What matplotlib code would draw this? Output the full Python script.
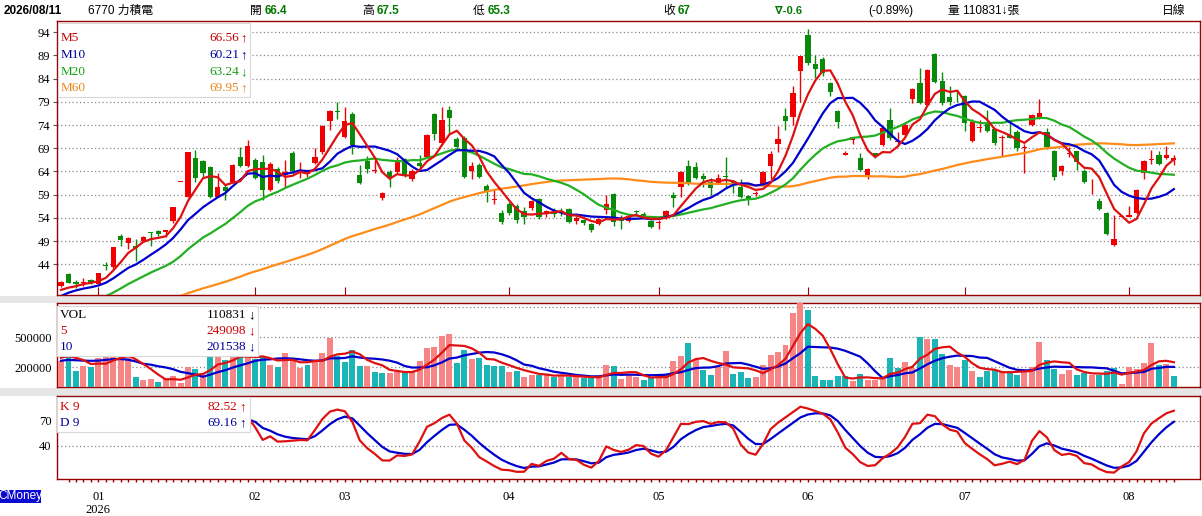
import matplotlib
matplotlib.use("Agg")
import matplotlib.pyplot as plt
import numpy as np
import pandas as pd
from matplotlib.patches import Rectangle

# ---------------- data ----------------
month_labels = ["01", "02", "03", "04", "05", "06", "07", "08"]
month_start_idx = [5, 26, 38, 60, 80, 100, 121, 143]
year_label = "2026"

# closes before the first visible candle (only used for moving averages)
history_close = [30.5, 31.0, 30.8, 31.5, 32.0, 31.6, 31.2, 30.9, 31.4, 32.1, 32.5, 32.0, 31.7, 31.3, 31.0, 31.5,
                 31.8, 32.2, 31.9, 31.5, 31.2, 31.6, 32.0, 32.3, 31.9, 31.6,
                 32.0, 32.5, 33.2, 33.6, 33.1, 32.8, 33.0, 32.6, 33.5,
                 33.2, 32.8, 32.4, 32.9, 33.3, 32.7, 32.2, 32.5, 32.9, 32.4, 32.0, 31.9,
                 31.5, 30.8, 31.2,
                 33.0, 34.8, 36.2, 37.0, 38.4,
                 37.6, 38.2, 37.8, 38.6]
history_volume = [220000, 200000, 250000, 220000, 270000, 230000, 250000, 320000, 400000]

opens = [39.4, 41.9, 40.3, 39.9, 40.7, 39.8, 43.8, 43.5, 50.1, 48.7,
         47.9, 49.1, 50.9, 51.1, 51.0, 53.3, 61.9, 58.6, 67.0, 66.2,
         65.0, 58.6, 60.6, 61.8, 67.1, 65.2, 66.5, 66.0, 60.1, 64.5,
         63.2, 68.0, 63.8, 63.4, 65.9, 68.1, 74.9, 77.0, 71.5, 76.4,
         63.2, 66.3, 64.2, 58.2, 63.9, 63.9, 66.6, 62.3, 65.9, 67.2,
         76.3, 70.2, 77.2, 71.0, 71.3, 64.2, 65.4, 60.9, 58.0, 55.0,
         56.9, 56.6, 55.5, 56.1, 58.0, 54.8, 55.3, 55.4, 55.9, 53.4,
         53.5, 52.7, 52.6, 55.7, 59.1, 53.9, 53.4, 55.4, 54.8, 53.4,
         53.0, 53.9, 58.9, 60.7, 65.2, 65.0, 63.1, 61.8, 61.5, 62.9,
         61.9, 60.7, 58.8, 59.1, 61.1, 65.2, 69.9, 76.0, 75.8, 85.7,
         93.4, 87.1, 88.2, 83.0, 77.0, 67.6, 70.8, 67.0, 63.1, 67.9,
         69.8, 75.1, 70.3, 71.9, 79.6, 83.0, 78.3, 89.4, 83.5, 80.1,
         80.3, 80.2, 70.6, 73.4, 74.2, 73.1, 71.2, 71.8, 72.6, 69.0,
         74.1, 75.6, 72.4, 68.4, 64.2, 67.8, 68.3, 64.2, 61.9, 57.7,
         55.1, 48.2, 54.3, 54.3, 55.0, 63.6, 66.4, 67.5, 66.8, 66.4]
highs = [40.5, 42.2, 40.6, 41.0, 40.9, 42.2, 44.6, 47.8, 50.5, 49.9,
         49.4, 50.1, 51.0, 51.5, 51.5, 56.4, 61.9, 68.1, 68.6, 66.5,
         65.2, 63.6, 61.0, 65.6, 69.3, 70.8, 66.8, 67.5, 66.0, 65.0,
         66.5, 68.5, 66.1, 64.3, 69.0, 74.0, 77.2, 79.0, 77.9, 76.9,
         65.4, 67.3, 66.5, 59.6, 64.3, 67.2, 67.0, 64.5, 67.5, 72.0,
         76.6, 77.9, 78.1, 71.5, 71.6, 66.1, 65.8, 61.2, 60.0, 55.7,
         57.4, 57.0, 56.4, 57.9, 58.3, 55.8, 56.1, 56.1, 56.2, 54.4,
         53.8, 52.9, 53.9, 58.9, 59.3, 54.6, 54.7, 55.7, 55.2, 53.6,
         53.6, 55.8, 59.6, 64.1, 66.5, 66.1, 63.6, 62.6, 63.4, 67.2,
         62.2, 62.4, 59.0, 59.7, 64.2, 68.3, 73.8, 77.6, 82.5, 88.9,
         94.7, 89.1, 88.6, 83.3, 77.2, 68.4, 71.5, 67.9, 64.7, 68.0,
         73.6, 77.7, 72.4, 74.7, 82.0, 86.3, 86.0, 89.6, 85.5, 82.3,
         81.5, 80.5, 75.2, 75.1, 77.2, 73.4, 71.8, 74.4, 73.0, 70.0,
         76.4, 79.5, 73.4, 68.7, 65.5, 69.3, 68.5, 64.5, 62.3, 58.2,
         55.3, 54.6, 54.6, 56.6, 60.3, 66.4, 68.6, 68.5, 69.5, 67.5]
lows = [39.2, 39.9, 39.0, 39.4, 39.7, 39.7, 42.8, 43.1, 47.9, 47.4,
        44.8, 48.8, 47.9, 50.2, 49.8, 53.0, 61.9, 58.6, 61.8, 62.9,
        58.3, 58.4, 57.9, 61.5, 65.0, 65.0, 62.3, 57.8, 59.9, 61.5,
        60.7, 63.5, 62.5, 62.9, 65.7, 67.8, 72.9, 75.4, 71.3, 67.8,
        61.3, 63.6, 63.6, 57.9, 60.7, 63.7, 62.9, 62.0, 64.7, 67.0,
        70.8, 70.0, 72.2, 68.8, 62.6, 62.3, 62.6, 57.4, 57.1, 52.6,
        54.7, 52.8, 52.7, 55.8, 53.8, 54.1, 54.3, 54.4, 53.0, 52.7,
        52.5, 51.0, 52.4, 54.8, 52.2, 51.7, 53.2, 54.6, 53.9, 51.8,
        51.7, 53.7, 56.4, 58.6, 61.0, 62.4, 60.7, 59.0, 61.2, 60.4,
        59.3, 58.3, 56.8, 58.8, 60.9, 62.4, 68.1, 72.9, 74.0, 79.0,
        86.9, 84.1, 84.6, 80.3, 73.3, 67.6, 70.0, 64.0, 62.4, 67.0,
        69.5, 70.8, 69.7, 71.7, 78.7, 78.5, 78.0, 83.0, 78.4, 78.3,
        79.0, 72.8, 70.4, 72.6, 72.6, 69.8, 67.3, 71.1, 68.3, 63.6,
        73.8, 75.3, 68.9, 62.2, 63.2, 67.2, 64.3, 61.5, 59.1, 55.7,
        50.3, 48.0, 54.2, 54.2, 54.8, 62.3, 65.7, 65.4, 66.6, 65.3]
closes = [40.3, 40.0, 39.8, 40.1, 39.9, 42.1, 43.6, 47.7, 49.2, 49.7,
          47.6, 49.9, 50.7, 50.6, 51.4, 56.3, 61.9, 68.1, 62.7, 63.7,
          58.6, 60.6, 59.7, 65.4, 65.2, 69.5, 62.7, 60.0, 65.6, 62.0,
          63.8, 64.0, 64.1, 63.8, 67.2, 73.8, 77.0, 76.9, 74.9, 69.7,
          61.6, 64.5, 64.3, 59.3, 62.5, 66.5, 63.2, 64.2, 65.2, 71.8,
          72.1, 75.1, 75.6, 69.3, 62.9, 65.2, 62.9, 59.6, 58.1, 53.2,
          55.0, 53.5, 54.3, 57.6, 54.1, 55.5, 54.8, 55.2, 53.2, 53.9,
          52.8, 51.5, 53.7, 56.9, 53.2, 53.3, 54.4, 55.3, 54.1, 52.0,
          53.2, 55.5, 58.2, 63.9, 61.4, 62.7, 62.3, 60.5, 62.6, 62.8,
          61.3, 58.6, 58.1, 59.3, 63.9, 67.8, 71.0, 74.9, 80.8, 88.9,
          87.3, 86.1, 85.3, 81.2, 74.7, 67.9, 71.5, 64.3, 64.5, 67.3,
          73.3, 71.1, 70.5, 74.0, 81.7, 78.8, 85.8, 83.3, 78.7, 79.0,
          80.2, 74.5, 74.7, 73.6, 72.8, 70.1, 71.3, 71.2, 69.0, 69.2,
          76.1, 76.5, 69.2, 62.9, 65.2, 68.0, 66.1, 61.8, 62.0, 56.0,
          50.5, 49.4, 54.3, 54.6, 60.1, 66.2, 66.6, 65.7, 67.6, 67.0]
volumes = [263000, 310000, 163000, 210000, 203000, 287000, 300000, 330000, 330000, 330000,
           97000, 70000, 77000, 50000, 87000, 110000, 37000, 197000, 183000, 120000,
           313000, 313000, 270000, 313000, 313000, 313000, 280000, 313000, 220000, 200000,
           337000, 287000, 193000, 220000, 263000, 343000, 493000, 313000, 253000, 370000,
           210000, 210000, 153000, 143000, 143000, 150000, 160000, 153000, 260000, 393000,
           403000, 510000, 530000, 240000, 370000, 280000, 293000, 220000, 213000, 213000,
           153000, 160000, 103000, 120000, 120000, 120000, 103000, 120000, 103000, 103000,
           87000, 87000, 103000, 220000, 210000, 80000, 127000, 103000, 70000, 93000,
           103000, 120000, 260000, 310000, 437000, 270000, 170000, 120000, 203000, 360000,
           130000, 147000, 93000, 103000, 220000, 320000, 353000, 420000, 740000, 860000,
           773000, 113000, 73000, 73000, 107000, 107000, 63000, 130000, 73000, 73000,
           90000, 290000, 190000, 250000, 190000, 500000, 483000, 483000, 330000, 223000,
           200000, 273000, 163000, 100000, 157000, 173000, 150000, 157000, 123000, 173000,
           200000, 450000, 273000, 183000, 130000, 173000, 123000, 140000, 117000, 117000,
           163000, 190000, 33000, 203000, 183000, 240000, 440000, 217000, 230000, 110831]

price_ticks = [94, 89, 84, 79, 74, 69, 64, 59, 54, 49, 44]
vol_ticks = [200000, 500000]
vol_grid = [200000, 500000, 800000]
kd_ticks = [40, 70]

ma_legend = [("M5", "66.56", "↑"), ("M10", "60.21", "↑"), ("M20", "63.24", "↓"), ("M60", "69.95", "↑")]
vol_legend = [("VOL", "110831", "↓"), ("5", "249098", "↓"), ("10", "201538", "↓")]
kd_legend = [("K 9", "82.52", "↑"), ("D 9", "69.16", "↑")]

# ---------------- computed series ----------------
O = np.array(opens); Hh = np.array(highs); L = np.array(lows); C = np.array(closes)
V = np.array(volumes, dtype=float)
n = len(C)
x = np.arange(n)

full_close = pd.Series(list(history_close) + list(closes))
nh = len(history_close)
ma5 = full_close.rolling(5).mean().values[nh:]
ma10 = full_close.rolling(10).mean().values[nh:]
ma20 = full_close.rolling(20).mean().values[nh:]
ma60 = full_close.rolling(60).mean().values[nh:]

full_vol = pd.Series(list(history_volume) + list(volumes))
nv = len(history_volume)
vma5 = full_vol.rolling(5).mean().values[nv:]
vma10 = full_vol.rolling(10).mean().values[nv:]

K = np.zeros(n); D = np.zeros(n)
k = d = 50.0
for t in range(n):
    lo = L[max(0, t - 8):t + 1].min(); hi = Hh[max(0, t - 8):t + 1].max()
    rsv = (C[t] - lo) / (hi - lo) * 100 if hi > lo else 50
    k = 2 / 3 * k + rsv / 3
    d = 2 / 3 * d + k / 3
    K[t] = k; D[t] = d

# ---------------- figure ----------------
W, H = 1202, 516
fig = plt.figure(figsize=(W / 100, H / 100), dpi=100)
fig.patch.set_facecolor("white")

def rect(x0, y0, x1, y1):
    return [x0 / W, 1 - y1 / H, (x1 - x0) / W, (y1 - y0) / H]

def T(px, py, s, **kw):
    kw.setdefault("va", "center")
    return fig.text(px / W, 1 - py / H, s, **kw)

# grey separator bands
for y0, y1 in [(296, 303), (388, 396)]:
    fig.add_artist(Rectangle((0, 1 - y1 / H), 1, (y1 - y0) / H, transform=fig.transFigure,
                             facecolor="#e6e6e6", edgecolor="none", zorder=0))

ax1 = fig.add_axes(rect(57, 21, 1200, 295))
ax2 = fig.add_axes(rect(57, 303, 1200, 387))
ax3 = fig.add_axes(rect(57, 396, 1200, 479))

frame_col = "#990000"
serif = ["Liberation Serif", "DejaVu Serif"]
for ax in (ax1, ax2, ax3):
    ax.set_xlim(-0.54, 152.5)
    for sp in ax.spines.values():
        sp.set_color(frame_col); sp.set_linewidth(1.0)
    ax.set_facecolor("white")

dot = (0, (1, 2))

# ---- price panel ----
up = C >= O
ccol = np.where(up, "#f00000", "#0a8a0a")
ax1.vlines(x, L, Hh, colors=ccol, lw=1.0, zorder=3)
body_lo = np.minimum(O, C)
body_h = np.abs(C - O)
tiny = body_h < 0.2
body_lo = np.where(tiny, (O + C) / 2 - 0.1, body_lo)
body_h = np.where(tiny, 0.2, body_h)
ax1.bar(x, body_h, 0.7, bottom=body_lo, color=ccol, linewidth=0, zorder=4)
ax1.plot(x, ma60, color="#ff8c1a", lw=1.6, zorder=5)
ax1.plot(x, ma20, color="#22b022", lw=1.6, zorder=5)
ax1.plot(x, ma10, color="#0000cc", lw=1.6, zorder=5)
ax1.plot(x, ma5, color="#dd1111", lw=1.6, zorder=6)
ax1.set_ylim(37.4, 96.4)
ax1.set_yticks(price_ticks)
ax1.set_yticklabels([str(t) for t in price_ticks], fontsize=9, family=serif)
ax1.yaxis.grid(True, linestyle=dot, color="#888888", lw=0.9)
ax1.set_axisbelow(True)
ax1.set_xticks(month_start_idx)
ax1.tick_params(axis="x", direction="in", length=6, color=frame_col, labelbottom=False)
ax1.tick_params(axis="y", length=3, pad=2, color="#555555")

# ---- volume panel ----
prev = np.concatenate([[C[0] - 1], C[:-1]])
vcol = np.where(C >= prev, "#f78585", "#1cb5b5")
ax2.bar(x, V, 0.8, color=vcol, linewidth=0, zorder=3)
ax2.plot(x, vma10, color="#0000cc", lw=1.6, zorder=5)
ax2.plot(x, vma5, color="#dd1111", lw=1.6, zorder=6)
ax2.set_ylim(0, 840000)
ax2.set_yticks(vol_grid)
ax2.set_yticklabels(["" if t not in vol_ticks else str(t) for t in vol_grid], fontsize=9, family=serif)
ax2.yaxis.grid(True, linestyle=dot, color="#888888", lw=0.9)
ax2.set_axisbelow(True)
ax2.set_xticks([])
ax2.tick_params(axis="y", length=0, pad=4)

# ---- KD panel ----
s = 25
ax3.plot(x[s:], D[s:], color="#0000cc", lw=1.6, zorder=5)
ax3.plot(x[s:], K[s:], color="#dd1111", lw=1.6, zorder=6)
ax3.set_ylim(0, 100)
ax3.set_yticks(kd_ticks)
ax3.set_yticklabels([str(t) for t in kd_ticks], fontsize=9, family=serif)
ax3.yaxis.grid(True, linestyle=dot, color="#888888", lw=0.9)
ax3.set_axisbelow(True)
ax3.set_xticks(x[1:])
ax3.tick_params(axis="x", direction="out", length=2.5, width=1, color=frame_col, labelbottom=False)
ax3.tick_params(axis="y", length=0, pad=4)

xt = ax3.get_xaxis_transform()
for lab, i in zip(month_labels, month_start_idx):
    ax3.text(i, -0.217, lab, transform=xt, ha="center", va="center", fontsize=9, family=serif)
ax3.text(month_start_idx[0], -0.375, year_label, transform=xt, ha="center", va="center",
         fontsize=9, family=serif)

# ---- legends ----
arrow_fam = ["Liberation Serif", "DejaVu Sans"]

def legend_box(x0, y0, x1, y1):
    fig.add_artist(Rectangle((x0 / W, 1 - y1 / H), (x1 - x0) / W, (y1 - y0) / H,
                             transform=fig.transFigure, facecolor="white",
                             edgecolor="#d8d8d8", lw=0.8, zorder=10))

legend_box(58, 23, 250, 97)
ma_cols = ["#c40000", "#000099", "#16a016", "#e8891a"]
for (name, val, arr), yy, cc in zip(ma_legend, [38, 55, 72, 88], ma_cols):
    T(61, yy, name, color=cc, fontsize=9.5, family=serif, zorder=11)
    T(239, yy, val, color=cc, fontsize=9.5, family=serif, ha="right", zorder=11)
    T(240, yy, arr, color=cc, fontsize=9.5, family=arrow_fam, zorder=11)

legend_box(57, 306, 258, 356)
vol_cols = ["black", "#d00000", "#000099"]
for (name, val, arr), yy, cc in zip(vol_legend, [315, 331, 347], vol_cols):
    T(60, yy, name, color=cc, fontsize=9.5, family=serif, zorder=11)
    T(246, yy, val, color=cc, fontsize=9.5, family=serif, ha="right", zorder=11)
    T(248, yy, arr, color=cc, fontsize=9.5, family=arrow_fam, zorder=11)

legend_box(57, 397, 250, 432)
kd_cols = ["#d00000", "#000099"]
for (name, val, arr), yy, cc in zip(kd_legend, [407, 423], kd_cols):
    T(60, yy, name, color=cc, fontsize=9.5, family=serif, zorder=11)
    T(237, yy, val, color=cc, fontsize=9.5, family=serif, ha="right", zorder=11)
    T(239, yy, arr, color=cc, fontsize=9.5, family=arrow_fam, zorder=11)

# ---- header ----
hfam = ["Liberation Sans", "Noto Sans CJK TC", "DejaVu Sans"]
hy = 11
green = "#007a00"
T(4, hy, "2026/08/11", fontsize=8.5, family=hfam, weight="bold")
T(88, hy, "6770 力積電", fontsize=8.5, family=hfam)
for lab, val, x0 in [("開", "66.4", 250), ("高", "67.5", 362), ("低", "65.3", 473), ("收", "67", 663)]:
    T(x0, hy, lab, fontsize=8.5, family=hfam)
    T(x0 + 15, hy, val, fontsize=8.5, family=hfam, weight="bold", color=green)
T(775, hy, "∇-0.6", fontsize=8, family=["Liberation Sans", "DejaVu Sans"], weight="bold", color=green)
T(868, hy, "(-0.89%)", fontsize=8.5, family=hfam)
T(948, hy, "量 110831↓張", fontsize=8.5, family=["Liberation Sans", "DejaVu Sans", "Noto Sans CJK TC"])
T(1162, hy, "日線", fontsize=8.5, family=hfam)

# ---- CMoney badge ----
fig.add_artist(Rectangle((0, 1 - 503 / H), 41 / W, 13 / H, transform=fig.transFigure,
                         facecolor="#0a0ad0", edgecolor="none", zorder=10))
T(20.5, 496.5, "CMoney", fontsize=8.5, family=["Liberation Sans"], color="white", ha="center", zorder=11)

fig.savefig("out.png", dpi=100, facecolor="white")
